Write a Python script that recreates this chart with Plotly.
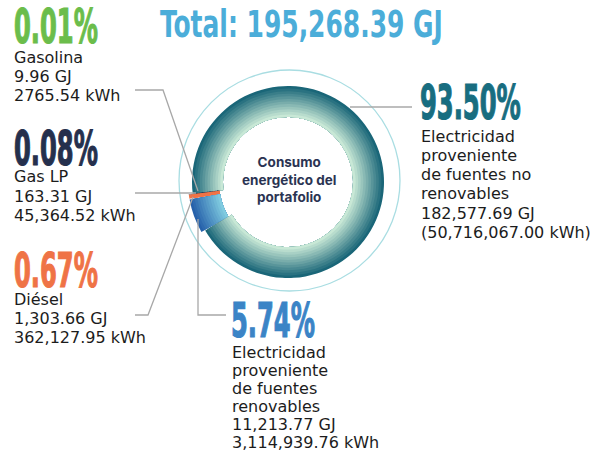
import plotly.graph_objects as go

# ---------------- data ----------------
categories = ["Gasolina", "Gas LP", "Diésel",
              "Electricidad proveniente de fuentes renovables",
              "Electricidad proveniente de fuentes no renovables"]
gj_values = [9.96, 163.31, 1303.66, 11213.77, 182577.69]
pct_values = [0.01, 0.08, 0.67, 5.74, 93.50]
name_lines = [["Gasolina"], ["Gas LP"], ["Diésel"],
              ["Electricidad", "proveniente", "de fuentes", "renovables"],
              ["Electricidad", "proveniente", "de fuentes no", "renovables"]]
gj_labels = ["9.96 GJ", "163.31 GJ", "1,303.66 GJ", "11,213.77 GJ", "182,577.69 GJ"]
kwh_labels = ["2765.54 kWh", "45,364.52 kWh", "362,127.95 kWh",
              "3,114,939.76 kWh", "(50,716,067.00 kWh)"]
total_label = "Total: 195,268.39 GJ"
center_label = "Consumo<br>energético del<br>portafolio"

# ---------------- layout helpers ----------------
W, H = 591, 460
def px(x): return x / W
def py(y): return 1 - y / H

CX, CY = 288, 182          # donut centre (px)
R_OUT, R_IN = 96, 65       # donut radii (px)
PULL_PX = 4                # explode offset for small slices (px)
N = 12

def lerp(c1, c2, t):
    return "rgb(%d,%d,%d)" % tuple(round(a + (b - a) * t) for a, b in zip(c1, c2))

teal_in, teal_out = (208, 238, 218), (18, 96, 116)
blue_in, blue_out = (132, 208, 226), (34, 92, 168)

fig = go.Figure()
for i in range(N):
    R = R_OUT - (R_OUT - R_IN) * i / N
    tmid = ((R - (R_OUT - R_IN) / N / 2) - R_IN) / (R_OUT - R_IN)
    p = PULL_PX / R
    half = R + PULL_PX
    colors = ["#2e5a4c", "#25304d", "#ef7346",
              lerp(blue_in, blue_out, tmid), lerp(teal_in, teal_out, tmid)]
    fig.add_trace(go.Pie(
        labels=categories, values=gj_values, sort=False,
        direction="counterclockwise", rotation=263,
        hole=R_IN / R, pull=[p, p, p, p, 0],
        marker=dict(colors=colors, line=dict(width=0)),
        textinfo="none", hoverinfo="skip", showlegend=False,
        domain=dict(x=[px(CX - half), px(CX + half)],
                    y=[py(CY + half), py(CY - half)]),
    ))

shapes = []
shapes.append(dict(type="circle", xref="paper", yref="paper",
                   x0=px(179), x1=px(400), y0=py(291), y1=py(70),
                   line=dict(color="#a9dde2", width=1.3)))
leaders = [
    [(135, 90), (163, 90), (198, 191)],
    [(135, 193), (196, 193)],
    [(135, 315), (148, 315), (193, 197)],
    [(198, 219), (198, 315), (226, 315)],
    [(350, 107), (412, 107)],
]
for pts in leaders:
    path = "M " + " L ".join("%f,%f" % (px(x), py(y)) for x, y in pts)
    shapes.append(dict(type="path", xref="paper", yref="paper", path=path,
                       line=dict(color="#a8a8a8", width=1.3)))

PCT_FONT = "DejaVu Sans Condensed, DejaVu Sans, sans-serif"
BODY_FONT = "DejaVu Sans, sans-serif"
CENTER_FONT = "Inter, Lato, sans-serif"
pct_colors = ["#6bbd4b", "#25304d", "#ef7346", "#3b84c6", "#186d80"]
pct_pos = [(12, 26), (12, 148), (12, 270), (229, 320), (418, 102)]
line_starts = [(12, 57, 19.2), (12, 176.5, 19.7), (12, 299.5, 19),
               (230, 352.8, 18), (419, 136, 19.3)]

ann = []
ann.append(dict(text="<b>" + total_label + "</b>", x=px(158), y=py(24),
                xanchor="left", yanchor="middle",
                font=dict(family=PCT_FONT, size=37, color="#4badd9"), showarrow=False,
                xref="paper", yref="paper"))
for k in range(5):
    x, y = pct_pos[k]
    ann.append(dict(text="<b>%.2f%%</b>" % pct_values[k], x=px(x), y=py(y),
                    xanchor="left", yanchor="middle",
                    font=dict(family=PCT_FONT, size=48, color=pct_colors[k]),
                    showarrow=False, xref="paper", yref="paper"))
    lines = name_lines[k] + [gj_labels[k], kwh_labels[k]]
    lx, ly, pitch = line_starts[k]
    for j, t in enumerate(lines):
        ann.append(dict(text=t, x=px(lx), y=py(ly + j * pitch),
                        xanchor="left", yanchor="middle",
                        font=dict(family=BODY_FONT, size=16, color="#1c1c1c"),
                        showarrow=False, xref="paper", yref="paper"))
ann.append(dict(text="<b>" + center_label + "</b>", x=px(CX + 1), y=py(CY - 2),
                xanchor="center", yanchor="middle",
                font=dict(family=CENTER_FONT, size=13.5, color="#2a3352"),
                showarrow=False, xref="paper", yref="paper"))

fig.update_layout(width=W, height=H, margin=dict(l=0, r=0, t=0, b=0),
                  paper_bgcolor="white", plot_bgcolor="white",
                  shapes=shapes, annotations=ann)

# condense the big headline numbers horizontally (the reference uses a condensed display face)
post = """
var gd = document.getElementById('{plot_id}');
gd.querySelectorAll('text.annotation-text').forEach(function(t){
  var s = t.textContent;
  var k = null;
  if (/%$/.test(s)) k = 0.56;
  else if (/^Total/.test(s)) k = 0.75;
  if (k !== null) {
    t.style.transformBox = 'fill-box';
    t.style.transformOrigin = 'left center';
    t.style.transform = 'scaleX(' + k + ')';
    if (k < 0.6) {
      t.style.stroke = t.style.fill;
      t.style.strokeWidth = '1.2px';
    }
  }
});
"""
fig.write_html("out.html", post_script=post)
